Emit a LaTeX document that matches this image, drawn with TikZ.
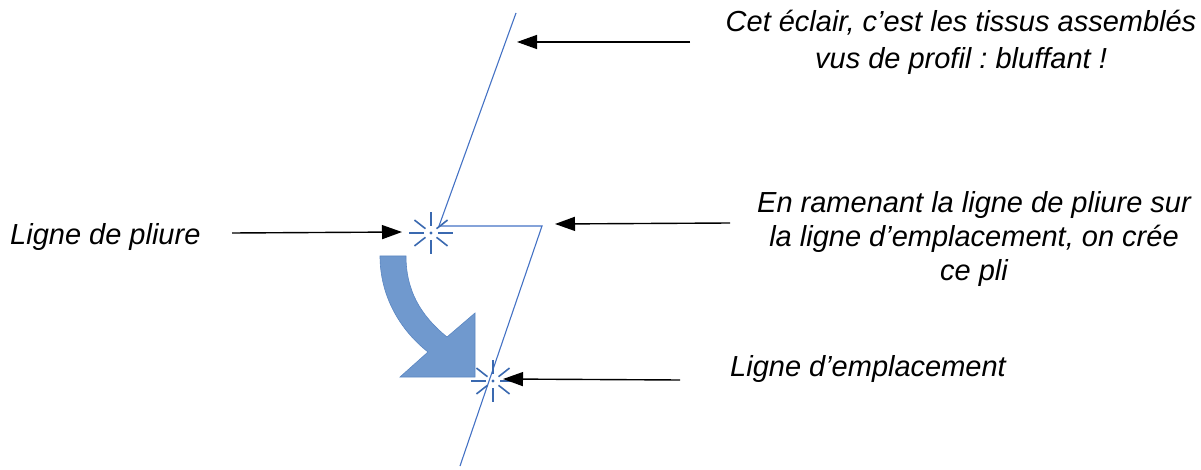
\documentclass[tikz,border=0pt]{standalone}
\usepackage{fontspec}
\setmainfont{Liberation Sans}
\usetikzlibrary{arrows.meta,calc}
\frenchspacing
\definecolor{linkblue}{HTML}{4472C4}
\definecolor{starblue}{HTML}{3A69B0}
\definecolor{arrowfill}{HTML}{7099CE}
\definecolor{arrowedge}{HTML}{5A86C2}
\tikzset{
  lbl/.style={inner sep=0pt, font=\fontsize{29}{34}\selectfont\itshape, align=center},
  pointer/.style={draw=black, line width=1.4pt, -{Triangle[length=20pt,width=14pt]}},
  fold/.style={draw=linkblue, line width=1.1pt},
  ray/.style={draw=starblue, line width=1.6pt},
}
\newcommand{\starburst}[1]{%
  \foreach \a/\r in {0/22,90/21,180/22,270/21,38/21,142/21,218/21,322/21}{
    \draw[ray] ($(#1)+(\a:7)$) -- ($(#1)+(\a:\r)$);
  }
  \fill[starblue] (#1) circle (1.7);
}
\begin{document}
\begin{tikzpicture}[x=1pt,y=-1pt]
\useasboundingbox (0,0) rectangle (1201,470);
% zigzag fold profile
\coordinate (ztop) at (516,13);
\coordinate (zk1) at (439,226);
\coordinate (zk2) at (542,226);
\coordinate (zbot) at (460,466);
\draw[fold, line join=miter] (ztop) -- (zk1) -- (zk2) -- (zbot);
% stars
\coordinate (s1) at (431,233);
\coordinate (s2) at (493,381);
\starburst{s1}
\starburst{s2}
% curved thick arrow
\filldraw[fill=arrowfill, draw=arrowedge, line width=0.6pt, line join=miter]
  (380,256) -- (406,256)
  .. controls (406,290) and (420,315) .. (447,337)
  -- (475,313) -- (475,377) -- (400,377) -- (428,352)
  .. controls (400,330) and (380,296) .. (380,256) -- cycle;
% texts
\node[lbl, anchor=base, font=\fontsize{29}{37}\selectfont\itshape] (t1) at (961,69) {Cet éclair, c’est les tissus assemblés\\vus de profil : bluffant !};
\node[lbl, anchor=base west] (t2) at (10,245) {Ligne de pliure};
\node[lbl, anchor=base] (t3) at (974,280) {En ramenant la ligne de pliure sur\\la ligne d’emplacement, on crée\\ce pli};
\node[lbl, anchor=base west] (t4) at (730,376) {Ligne d’emplacement};
% pointer arrows
\coordinate (p1s) at (690,42);  \coordinate (p1e) at (517,42);
\coordinate (p2s) at (232,233); \coordinate (p2e) at (402,232);
\coordinate (p3s) at (730,223); \coordinate (p3e) at (555,224);
\coordinate (p4s) at (680,380); \coordinate (p4e) at (503,379);
\draw[pointer] (p1s) -- (p1e);
\draw[pointer] (p2s) -- (p2e);
\draw[pointer] (p3s) -- (p3e);
\draw[pointer] (p4s) -- (p4e);
\end{tikzpicture}
\end{document}
